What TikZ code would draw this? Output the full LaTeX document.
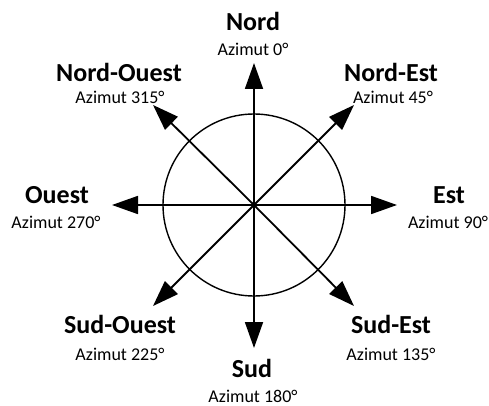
\documentclass[tikz,border=0pt]{standalone}
\usepackage{fontspec}
\setmainfont{Carlito}
\usetikzlibrary{arrows.meta}
\begin{document}
\begin{tikzpicture}[x=1pt,y=-1pt,
  dirarrow/.style={line width=1.8pt,-{Triangle[length=26pt,width=18pt]}},
  title/.style={anchor=base,inner sep=0pt,font=\fontsize{26}{26}\selectfont\bfseries},
  azim/.style={anchor=base,inner sep=0pt,font=\fontsize{18}{18}\selectfont}]
\useasboundingbox (0,0) rectangle (489,406);
\coordinate (c) at (254,205);
\draw[line width=1.4pt] (c) circle[radius=91];
\coordinate (tn) at (254,63);
\coordinate (ts) at (254,348);
\coordinate (te) at (397,205);
\coordinate (tw) at (112,205);
\coordinate (tne) at (354,105);
\coordinate (tnw) at (153,105);
\coordinate (tse) at (354,306);
\coordinate (tsw) at (153,306);
\foreach \t in {tn,ts,te,tw,tne,tnw,tse,tsw} \draw[dirarrow] (c) -- (\t);
\node[title] (nord) at (253,31) {Nord};
\node[azim] (anord) at (253,56) {Azimut 0°};
\node[title] (no) at (119,82) {Nord-Ouest};
\node[azim] (ano) at (120,104) {Azimut 315°};
\node[title] (ne) at (391,82) {Nord-Est};
\node[azim] (ane) at (393,104) {Azimut 45°};
\node[title] (ouest) at (57,203) {Ouest};
\node[azim] (aouest) at (56,228) {Azimut 270°};
\node[title] (est) at (449,203) {Est};
\node[azim] (aest) at (448,228) {Azimut 90°};
\node[title] (so) at (120,333) {Sud-Ouest};
\node[azim] (aso) at (120,360) {Azimut 225°};
\node[title] (sud) at (252,377) {Sud};
\node[azim] (asud) at (253,402) {Azimut 180°};
\node[title] (se) at (391,333) {Sud-Est};
\node[azim] (ase) at (391,360) {Azimut 135°};
\end{tikzpicture}
\end{document}
